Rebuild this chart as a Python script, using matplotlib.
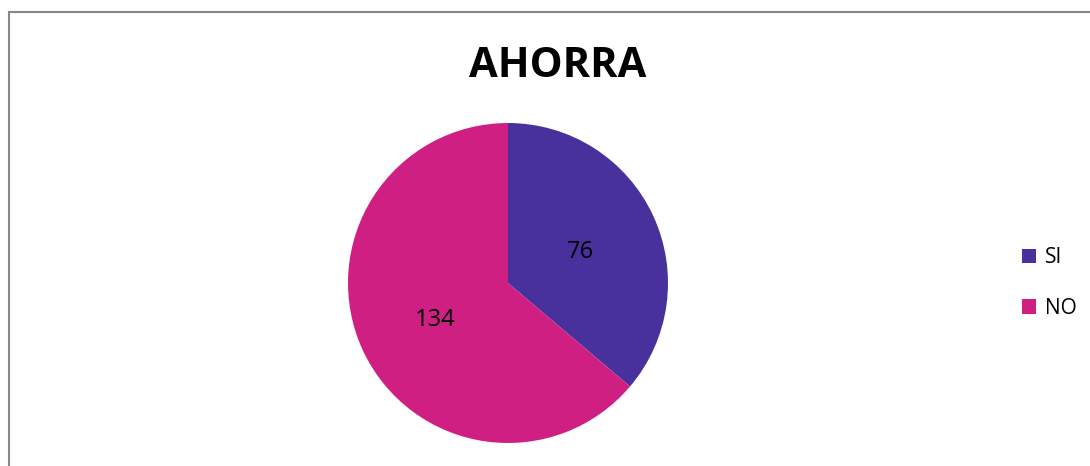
import matplotlib
matplotlib.use("Agg")
import matplotlib.pyplot as plt
import numpy as np
from matplotlib.patches import Rectangle, Patch

plt.rcParams['font.family'] = ['Open Sans', 'DejaVu Sans']

title = "AHORRA"
categories = ["SI", "NO"]
values = [76, 134]
colors = ["#48319D", "#D01F83"]

W, H = 1090, 466
fig = plt.figure(figsize=(W / 100, H / 100), dpi=100)

# frame
fig.patches.append(Rectangle((9 / W, -0.05), 1.1, (H - 12) / H + 0.05,
                             transform=fig.transFigure, fill=False,
                             edgecolor="#878787", linewidth=1.5))

ax = fig.add_axes([348 / W, 23 / H, 320 / W, 320 / H])
wedges, texts = ax.pie(values, colors=colors, startangle=90, counterclock=False,
                       radius=1.0, wedgeprops=dict(linewidth=0))
for w, v in zip(wedges, values):
    ang = np.deg2rad((w.theta1 + w.theta2) / 2)
    ax.text(0.5 * np.cos(ang), 0.5 * np.sin(ang) - 0.056, str(v),
            ha='center', va='baseline', fontsize=17, color='black')
ax.set_xlim(-1, 1)
ax.set_ylim(-1, 1)
ax.set_aspect('equal')
ax.axis('off')

fig.text(558 / W, 1 - 77 / H, title, ha='center', va='baseline',
         fontsize=30, fontweight='bold')

handles = [Patch(facecolor=c, edgecolor='none') for c in colors]
fig.legend(handles, categories, loc='center left',
           bbox_to_anchor=(1003 / W, 1 - 283 / H), frameon=False,
           fontsize=15, handlelength=0.7, handleheight=0.7,
           handletextpad=0.4, labelspacing=1.4)

fig.savefig("out.png", dpi=100)
